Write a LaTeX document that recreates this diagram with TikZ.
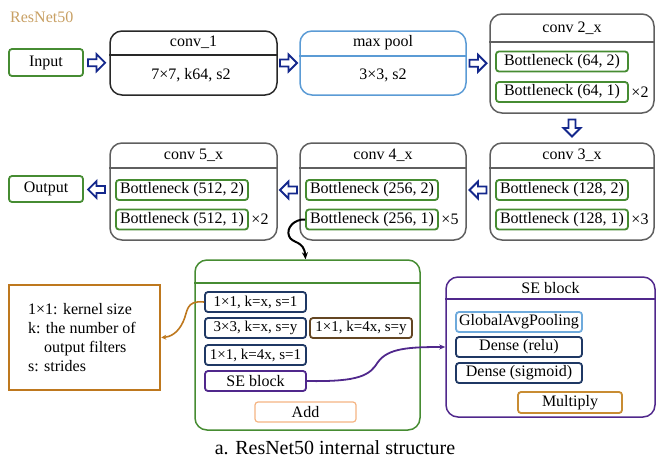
\documentclass[tikz,border=0pt]{standalone}
\usepackage{fontspec}
\setmainfont{Liberation Serif}
\usetikzlibrary{calc,arrows.meta}
\definecolor{grn}{RGB}{70,140,50}
\definecolor{navy}{RGB}{31,56,100}
\definecolor{arrblue}{RGB}{20,40,140}
\definecolor{mpblue}{RGB}{91,155,213}
\definecolor{dk}{RGB}{40,40,40}
\definecolor{gry}{RGB}{95,95,95}
\definecolor{lbrown}{RGB}{190,120,30}
\definecolor{dbrown}{RGB}{100,70,35}
\definecolor{purp}{RGB}{80,40,140}
\definecolor{addor}{RGB}{245,180,130}
\definecolor{mulor}{RGB}{200,140,50}
\definecolor{gapblue}{RGB}{110,170,220}
\definecolor{tan}{RGB}{200,160,100}
\begin{document}
\begin{tikzpicture}[x=1pt,y=-1pt,
  font=\fontsize{16}{18}\selectfont,
  big/.style={draw, rounded corners=12pt, line width=1.5pt, inner sep=0pt},
  sm/.style={draw, rounded corners=3pt, line width=1.8pt, inner sep=0pt, minimum height=20pt},
  bn/.style={sm, draw=grn, minimum width=132pt},
  inb/.style={sm, minimum width=101pt, font=\fontsize{15}{18}\selectfont},
  lbl/.style={inner sep=0pt},
  hollow/.style={draw=arrblue, fill=white, line width=1.8pt, line join=miter},
  harrow/.pic={\draw[hollow] (-8.5,-3.5) -- (0,-3.5) -- (0,-8.5) -- (8.5,0) -- (0,8.5) -- (0,3.5) -- (-8.5,3.5) -- cycle;},
  divider/.style={line width=1.5pt}
]
\useasboundingbox (0,0) rectangle (656,459);

\node[lbl, anchor=west, text=tan] (title) at (10,17) {ResNet50};

% top row
\node[sm, draw=grn, minimum width=74pt, minimum height=27pt] (input) at (46,62.5) {Input};

\node[big, draw=dk, minimum width=167pt, minimum height=64pt] (conv1) at (193.5,63) {};
\draw[divider, dk] (conv1.west |- 0,55) -- (conv1.east |- 0,55);
\node[lbl] (c1t) at (193.5,42) {conv\_1};
\node[lbl] (c1c) at (191,75) {7×7, k64, s2};

\node[big, draw=mpblue, minimum width=166pt, minimum height=64pt] (mp) at (383,63) {};
\draw[divider, mpblue] (mp.west |- 0,56) -- (mp.east |- 0,56);
\node[lbl] (mpt) at (383,43) {max pool};
\node[lbl] (mpc) at (383,75) {3×3, s2};

\node[big, draw=gry, minimum width=164pt, minimum height=99pt] (conv2) at (572,63.5) {};
\draw[divider, gry] (conv2.west |- 0,42) -- (conv2.east |- 0,42);
\node[lbl] (c2t) at (572,28) {conv 2\_x};
\node[bn] (b64a) at (562,61.5) {Bottleneck (64, 2)};
\node[bn] (b64b) at (562,92) {Bottleneck (64, 1)};
\node[lbl] (x2a) at (640,92) {×2};

% second row
\node[big, draw=gry, minimum width=164pt, minimum height=97pt] (conv3) at (572,191.5) {};
\draw[divider, gry] (conv3.west |- 0,168) -- (conv3.east |- 0,168);
\node[lbl] (c3t) at (572,155) {conv 3\_x};
\node[bn] (b128a) at (562,190) {Bottleneck (128, 2)};
\node[bn] (b128b) at (562,219.5) {Bottleneck (128, 1)};
\node[lbl] (x3) at (640,219.5) {×3};

\node[big, draw=gry, minimum width=166pt, minimum height=97pt] (conv4) at (383,191.5) {};
\draw[divider, gry] (conv4.west |- 0,168) -- (conv4.east |- 0,168);
\node[lbl] (c4t) at (383,155) {conv 4\_x};
\node[bn] (b256a) at (372,190) {Bottleneck (256, 2)};
\node[bn] (b256b) at (372,219.5) {Bottleneck (256, 1)};
\node[lbl] (x5) at (450,219.5) {×5};

\node[big, draw=gry, minimum width=167pt, minimum height=97pt] (conv5) at (193.5,191.5) {};
\draw[divider, gry] (conv5.west |- 0,168) -- (conv5.east |- 0,168);
\node[lbl] (c5t) at (193.5,155) {conv 5\_x};
\node[bn] (b512a) at (182,190) {Bottleneck (512, 2)};
\node[bn] (b512b) at (182,219.5) {Bottleneck (512, 1)};
\node[lbl] (x2b) at (260,219.5) {×2};

\node[sm, draw=grn, minimum width=74pt, minimum height=26pt] (output) at (46,189) {Output};

% hollow arrows
\path ($(input.east)!0.5!(conv1.west)$) pic {harrow};
\path ($(conv1.east)!0.5!(mp.west)$) pic {harrow};
\path ($(mp.east)!0.5!(conv2.west)$) pic {harrow};
\path ($(conv2.south)!0.5!(conv3.north)$) pic[rotate=-90] {harrow};
\path ($(conv3.west |- b128a)!0.5!(conv4.east |- b128a)$) pic[rotate=180] {harrow};
\path ($(conv4.west |- b128a)!0.5!(conv5.east |- b128a)$) pic[rotate=180] {harrow};
\path ($(conv5.west |- b128a)!0.5!(output.east)$) pic[rotate=180] {harrow};

% residual block
\node[big, draw=grn, minimum width=225pt, minimum height=170pt] (res) at (307.5,345) {};
\draw[divider, grn] (res.west |- 0,283) -- (res.east |- 0,283);
\node[inb, draw=navy] (r1) at (255.5,302) {1×1, k=x, s=1};
\node[inb, draw=navy] (r2) at (255.5,328) {3×3, k=x, s=y};
\node[inb, draw=dbrown, minimum width=102pt] (r3) at (361,328) {1×1, k=4x, s=y};
\node[inb, draw=navy] (r4) at (255.5,355) {1×1, k=4x, s=1};
\node[inb, draw=purp, font=\fontsize{16}{18}\selectfont] (r5) at (255.5,381) {SE block};
\node[sm, draw=addor, line width=1.2pt, minimum width=101pt] (add) at (305.5,412) {Add};

% legend
\node[draw=lbrown, line width=2.5pt, minimum width=151pt, minimum height=105pt, inner sep=0pt] (legend) at (84.5,337.5) {};
\node[lbl, anchor=west, align=left, font=\fontsize{16}{19}\selectfont] (legtxt) at (28,338) {1×1: kernel size\\k: the number of\\\hspace*{16pt}output filters\\s: strides};

% SE block
\node[big, draw=purp, minimum width=209pt, minimum height=140pt] (se) at (550.5,347) {};
\draw[divider, purp] (se.west |- 0,299) -- (se.east |- 0,299);
\node[lbl] (set) at (550.5,288) {SE block};
\node[sm, draw=gapblue, minimum width=126pt] (gap) at (519,322) {GlobalAvgPooling};
\node[sm, draw=navy, minimum width=126pt] (dr) at (519,347) {Dense (relu)};
\node[sm, draw=navy, minimum width=126pt] (ds) at (519,373) {Dense (sigmoid)};
\node[sm, draw=mulor, minimum width=104pt, minimum height=21pt] (mul) at (570,402.5) {Multiply};

% curves
\draw[line width=2pt, -{Stealth[length=7pt,width=6pt]}] (b256b.west) .. controls (294,219) and (286,228) .. (289,236) .. controls (292,244) and (304,240) .. ([xshift=-2pt]res.north);
\draw[lbrown, line width=1.6pt, -{Stealth[length=5pt,width=5pt]}] (r1.west) .. controls (185,300) and (188,312) .. (183,322) .. controls (178,333) and (170,337) .. (legend.east);
\draw[purp, line width=1.8pt, -{Stealth[length=6pt,width=5pt]}] (r5.east) .. controls (360,382) and (370,375) .. (378,362) .. controls (388,348) and (410,347) .. (se.west);

\node[lbl, font=\fontsize{20}{24}\selectfont] (caption) at (335,448) {a. ResNet50 internal structure};
\end{tikzpicture}
\end{document}
